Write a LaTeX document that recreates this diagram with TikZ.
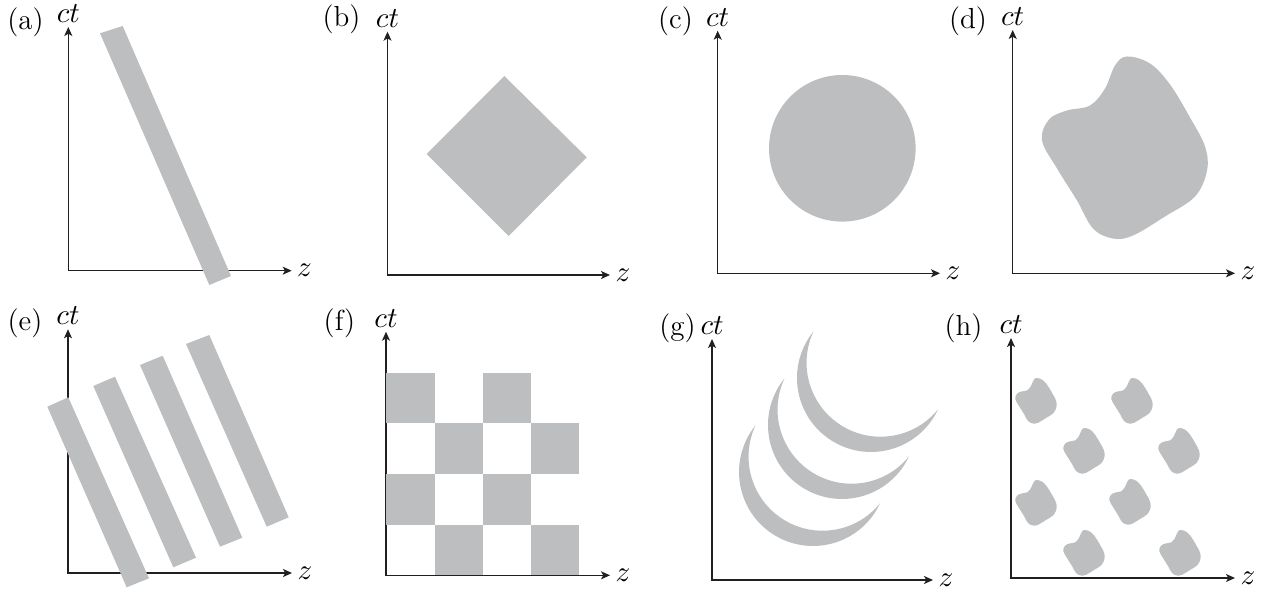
\RequirePackage{fix-cm}
\documentclass[tikz,border=0pt]{standalone}
\usetikzlibrary{arrows.meta,positioning}
\definecolor{slabgray}{RGB}{188,190,192}
\definecolor{axisblack}{RGB}{35,31,32}
\tikzset{
  axis/.style={draw=axisblack,line width=0.5pt,
    {Stealth[length=3.6pt,width=3.2pt,inset=0.9pt]}-{Stealth[length=3.6pt,width=3.2pt,inset=0.9pt]}},
  slab/.style={fill=slabgray},
  lab/.style={inner sep=0pt,font=\fontsize{11.6}{14}\selectfont},
  pics/blob/.style={code={
    \fill[slab] plot[smooth cycle,tension=0.6] coordinates {(2,-92) (25,-85) (45,-64) (65,-31) (80,-2) (82,22) (70,48) (40,68) (8,87) (-12,90) (-32,80) (-48,52) (-68,20) (-83,-8) (-76,-29) (-58,-38) (-35,-43) (-20,-60) (-10,-83)};
  }},
  pics/moon/.style={code={
    \fill[slab] (219:74) arc[start angle=219,end angle=25,radius=74] arc[start angle=39,end angle=205,radius=74] -- cycle;
  }},
}
\begin{document}
\begin{tikzpicture}[x=0.4pt,y=-0.4pt]
  \useasboundingbox (0,0) rectangle (1265,592);
  % (a) one tilted bar
  \coordinate (a-o) at (68.3,270.7);
  \coordinate (a-t) at (68.3,27);
  \coordinate (a-z) at (291.7,270.7);
  \draw[axis] (a-t) -- (a-o) -- (a-z);
  \fill[slab] (100,33.3) -- (122.7,26) -- (231,276) -- (209.3,285) -- cycle;
  \node[lab,above=1.6pt of a-t] (a-ct) {$ct$};
  \node[lab,right=2pt of a-z] (a-zl) {$z$};
  \node[lab,anchor=base] (a-lab) at (25.5,29.5) {(a)};
  % (b) diamond
  \coordinate (b-o) at (387.5,275);
  \coordinate (b-t) at (387.5,31.7);
  \coordinate (b-z) at (610,275);
  \draw[axis] (b-t) -- (b-o) -- (b-z);
  \fill[slab] (504.3,76) -- (586.7,157.3) -- (508.7,236) -- (426.7,154) -- cycle;
  \node[lab,above=1.6pt of b-t] (b-ct) {$ct$};
  \node[lab,right=2pt of b-z] (b-zl) {$z$};
  \node[lab,anchor=base] (b-lab) at (341.5,26.7) {(b)};
  % (c) disc
  \coordinate (c-o) at (717.7,273.3);
  \coordinate (c-t) at (717.7,30.7);
  \coordinate (c-z) at (940,273.3);
  \draw[axis] (c-t) -- (c-o) -- (c-z);
  \fill[slab] (842.3,148.3) circle[radius=73.3];
  \node[lab,above=1.6pt of c-t] (c-ct) {$ct$};
  \node[lab,right=2pt of c-z] (c-zl) {$z$};
  \node[lab,anchor=base] (c-lab) at (675.5,28.3) {(c)};
  % (d) blob
  \coordinate (d-o) at (1012.7,273.3);
  \coordinate (d-t) at (1012.7,30);
  \coordinate (d-z) at (1235,273.3);
  \draw[axis] (d-t) -- (d-o) -- (d-z);
  \pic at (1125,148.5) {blob};
  \node[lab,above=1.6pt of d-t] (d-ct) {$ct$};
  \node[lab,right=2pt of d-z] (d-zl) {$z$};
  \node[lab,anchor=base] (d-lab) at (968,28.3) {(d)};
  % (e) four tilted bars
  \coordinate (e-o) at (68,573);
  \coordinate (e-t) at (68,329.3);
  \coordinate (e-z) at (292,573);
  \draw[axis] (e-t) -- (e-o) -- (e-z);
  \fill[slab] (47.3,406.7) -- (68.3,397.3) -- (149,578.3) -- (126.7,587.3) -- cycle;
  \fill[slab] (93.3,386) -- (115,376.7) -- (196,557.7) -- (173.3,567.3) -- cycle;
  \fill[slab] (140,365) -- (162.7,355.7) -- (242.3,537.7) -- (220,546.7) -- cycle;
  \fill[slab] (186,344) -- (209.3,335) -- (288.7,517.3) -- (266.7,526.7) -- cycle;
  \node[lab,above=1.6pt of e-t] (e-ct) {$ct$};
  \node[lab,right=2pt of e-z] (e-zl) {$z$};
  \node[lab,anchor=base] (e-lab) at (25,330) {(e)};
  % (f) checkerboard
  \coordinate (f-o) at (386,575.3);
  \coordinate (f-t) at (386,331.7);
  \coordinate (f-z) at (610,575.3);
  \draw[axis] (f-t) -- (f-o) -- (f-z);
  \fill[slab] (386,372.7) rectangle (435,423.3);
  \fill[slab] (482.7,372.7) rectangle (530.7,423.3);
  \fill[slab] (435,423.3) rectangle (482.7,474);
  \fill[slab] (530.7,423.3) rectangle (579,474);
  \fill[slab] (386,474) rectangle (435,525);
  \fill[slab] (482.7,474) rectangle (530.7,525);
  \fill[slab] (435,525) rectangle (482.7,575.3);
  \fill[slab] (530.7,525) rectangle (579,575.3);
  \node[lab,above=1.6pt of f-t] (f-ct) {$ct$};
  \node[lab,right=2pt of f-z] (f-zl) {$z$};
  \node[lab,anchor=base] (f-lab) at (339.5,330) {(f)};
  % (g) three crescents
  \coordinate (g-o) at (712,580);
  \coordinate (g-t) at (712,339);
  \coordinate (g-z) at (933,580);
  \draw[axis] (g-t) -- (g-o) -- (g-z);
  \pic at (813,472) {moon};
  \pic at (842,425) {moon};
  \pic at (871,378) {moon};
  \node[lab,above=1.6pt of g-t] (g-ct) {$ct$};
  \node[lab,right=2pt of g-z] (g-zl) {$z$};
  \node[lab,anchor=base] (g-lab) at (677.5,335) {(g)};
  % (h) small blobs on a checkerboard
  \coordinate (h-o) at (1011,578);
  \coordinate (h-t) at (1011,338);
  \coordinate (h-z) at (1235,578);
  \draw[axis] (h-t) -- (h-o) -- (h-z);
  \pic[scale=0.25] at (1036,401) {blob};
  \pic[scale=0.25] at (1132,401) {blob};
  \pic[scale=0.25] at (1084,451) {blob};
  \pic[scale=0.25] at (1179,451) {blob};
  \pic[scale=0.25] at (1036,503) {blob};
  \pic[scale=0.25] at (1130,502) {blob};
  \pic[scale=0.25] at (1084,553) {blob};
  \pic[scale=0.25] at (1180,553) {blob};
  \node[lab,above=1.6pt of h-t] (h-ct) {$ct$};
  \node[lab,right=2pt of h-z] (h-zl) {$z$};
  \node[lab,anchor=base] (h-lab) at (963.5,335) {(h)};
\end{tikzpicture}
\end{document}
